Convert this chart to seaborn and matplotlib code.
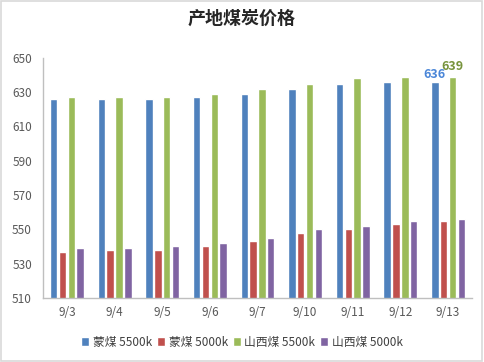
import pandas as pd
import numpy as np
import seaborn as sns
import matplotlib.pyplot as plt
from matplotlib.patches import Rectangle

dates = ["9/3", "9/4", "9/5", "9/6", "9/7", "9/10", "9/11", "9/12", "9/13"]
series = ["蒙煤 5500k", "蒙煤 5000k", "山西煤 5500k", "山西煤 5000k"]
meng5500 = [626, 626, 626, 627, 629, 632, 635, 636, 636]
meng5000 = [537, 538, 538, 540, 543, 548, 550, 553, 555]
sx5500 = [627, 627, 627, 629, 632, 635, 638, 639, 639]
sx5000 = [539, 539, 540, 542, 545, 550, 552, 555, 556]
colors = ["#4F81BD", "#C0504D", "#9BBB59", "#8064A2"]

df = pd.DataFrame({
    "date": dates * 4,
    "series": np.repeat(series, len(dates)),
    "price": meng5500 + meng5000 + sx5500 + sx5000,
})

sns.set_style("white")
plt.rcParams["font.family"] = ["Noto Sans CJK SC", "DejaVu Sans"]
grey = "#595959"

fig = plt.figure(figsize=(4.84, 3.62), dpi=100)
ax = fig.add_axes([0.089, 0.177, 0.886, 0.663])

sns.barplot(data=df, x="date", y="price", hue="series", hue_order=series,
            palette=colors, width=0.74, gap=0.15, ax=ax, saturation=1)

ax.set_ylim(510, 650)
ax.set_yticks(range(510, 651, 20))
ax.set_xlim(-0.5, len(dates) - 0.5)
ax.set_xlabel("")
ax.set_ylabel("")
for s in ["top", "right"]:
    ax.spines[s].set_visible(False)
for s in ["left", "bottom"]:
    ax.spines[s].set_color("#BFBFBF")
    ax.spines[s].set_linewidth(1)
ax.tick_params(axis="y", direction="in", length=4, color="#BFBFBF",
               labelsize=8.5, labelcolor=grey, pad=8)
ax.tick_params(axis="x", length=0, labelsize=8.5, labelcolor=grey, pad=6)
# category boundary ticks
ax.set_xticks(np.arange(-0.5, len(dates), 1), minor=True)
ax.tick_params(axis="x", which="minor", direction="out", length=5, color="#BFBFBF")

# labels on the last bars
n = len(dates)
ax.bar_label(ax.containers[0], labels=[""] * (n - 1) + [str(meng5500[-1])],
             color="#4A86D8", fontweight="bold", fontsize=9, padding=1)
ax.bar_label(ax.containers[2], labels=[""] * (n - 1) + [str(sx5500[-1])],
             color="#77933C", fontweight="bold", fontsize=9, padding=3)

handles, labels = ax.get_legend_handles_labels()
ax.get_legend().remove()
fig.legend(handles, labels, loc="center", bbox_to_anchor=(0.5, 0.055), ncol=4,
           frameon=False, fontsize=8.5, handlelength=0.7, handleheight=0.7,
           handletextpad=0.3, columnspacing=0.4, labelcolor="#404040")

fig.suptitle("产地煤炭价格", x=0.5, y=0.975, fontsize=13, fontweight="bold")

fig.patches.append(Rectangle((0.002, 0.003), 0.994, 0.994, transform=fig.transFigure,
                             fill=False, edgecolor="#D9D9D9", linewidth=1.2))

fig.savefig("out.png", dpi=100)
